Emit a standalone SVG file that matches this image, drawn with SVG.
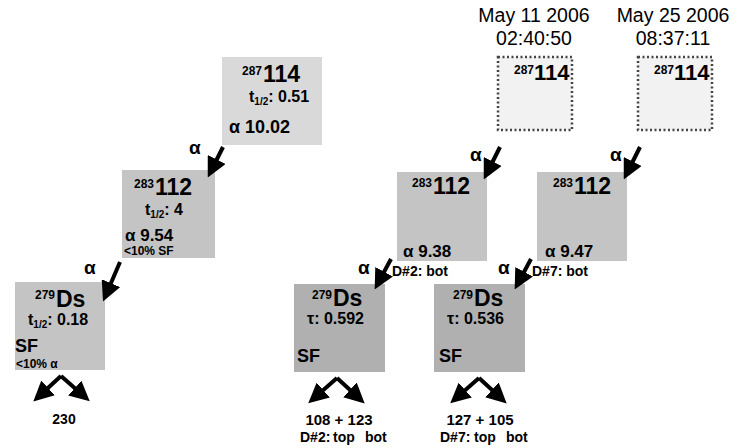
<svg xmlns="http://www.w3.org/2000/svg" width="748" height="448" viewBox="0 0 748 448">
<style>
.b{font-family:"Liberation Sans",Arial,sans-serif;font-weight:bold;fill:#000}
.r{font-family:"Liberation Sans",Arial,sans-serif;fill:#000}
.lt{fill:#d9d9d9}
.md{fill:#c4c4c4}
.dk{fill:#b0b0b0}
.dot{fill:#f2f2f2;stroke:#444;stroke-width:2.5;stroke-dasharray:2 2.5}
.arr{stroke:#000;stroke-width:4;fill:none;marker-end:url(#ah)}
</style>
<defs>
<marker id="ah" markerUnits="userSpaceOnUse" markerWidth="20" markerHeight="20" refX="15" refY="10" orient="auto">
<path d="M0,0 L20,10 L0,20 z" fill="#000"/>
</marker>
</defs>
<rect width="748" height="448" fill="#fff"/>

<g id="n1">
<rect class="lt" x="222" y="57" width="100" height="88"/>
<text class="b" x="242" y="75" font-size="12">287</text>
<text class="b" x="263" y="82" font-size="23">114</text>
<text class="b" x="249" y="102" font-size="16">t<tspan font-size="10" dy="3">1/2</tspan><tspan dy="-3">: 0.51</tspan></text>
<text class="b" x="229" y="133" font-size="18">α 10.02</text>
</g>

<g id="n2">
<rect class="md" x="122" y="170" width="93" height="88"/>
<text class="b" x="134" y="188" font-size="12">283</text>
<text class="b" x="155" y="195" font-size="23">112</text>
<text class="b" x="145" y="215" font-size="16">t<tspan font-size="10" dy="3">1/2</tspan><tspan dy="-3">: 4</tspan></text>
<text class="b" x="125" y="241" font-size="17">α 9.54</text>
<text class="b" x="124" y="255" font-size="12">&lt;10% SF</text>
</g>

<g id="n3">
<rect class="md" x="15" y="282" width="90" height="88"/>
<text class="b" x="35" y="299" font-size="12">279</text>
<text class="b" x="56" y="307" font-size="23">Ds</text>
<text class="b" x="28" y="325" font-size="16">t<tspan font-size="10" dy="3">1/2</tspan><tspan dy="-3">: 0.18</tspan></text>
<text class="b" x="15" y="352" font-size="18">SF</text>
<text class="b" x="16" y="368" font-size="12">&lt;10% α</text>
</g>
<text class="b" x="64" y="424" font-size="14" text-anchor="middle">230</text>

<g id="d1">
<text class="r" x="534" y="22" font-size="19.5" text-anchor="middle">May 11 2006</text>
<text class="r" x="534" y="45" font-size="19.5" text-anchor="middle">02:40:50</text>
<rect class="dot" x="498" y="57" width="74" height="73"/>
<text class="b" x="514" y="74" font-size="12">287</text>
<text class="b" x="534" y="80" font-size="22">114</text>
</g>

<g id="d2">
<text class="r" x="673" y="22" font-size="19.5" text-anchor="middle">May 25 2006</text>
<text class="r" x="673" y="45" font-size="19.5" text-anchor="middle">08:37:11</text>
<rect class="dot" x="638" y="57" width="74" height="73"/>
<text class="b" x="654" y="74" font-size="12">287</text>
<text class="b" x="674" y="80" font-size="22">114</text>
</g>

<g id="m2">
<rect class="md" x="397" y="172" width="90" height="89"/>
<text class="b" x="412" y="187" font-size="12">283</text>
<text class="b" x="433" y="194" font-size="23">112</text>
<text class="b" x="403" y="257" font-size="17">α 9.38</text>
</g>

<g id="r2">
<rect class="md" x="537" y="172" width="90" height="89"/>
<text class="b" x="553" y="187" font-size="12">283</text>
<text class="b" x="574" y="194" font-size="23">112</text>
<text class="b" x="545" y="257" font-size="17">α 9.47</text>
</g>

<g id="m3">
<rect class="dk" x="294" y="284" width="91" height="88"/>
<text class="b" x="312" y="299" font-size="12">279</text>
<text class="b" x="333" y="306" font-size="23">Ds</text>
<text class="b" x="307" y="324" font-size="16">τ: 0.592</text>
<text class="b" x="297" y="362" font-size="18">SF</text>
</g>

<g id="r3">
<rect class="dk" x="434" y="284" width="91" height="88"/>
<text class="b" x="453" y="299" font-size="12">279</text>
<text class="b" x="474" y="306" font-size="23">Ds</text>
<text class="b" x="447" y="324" font-size="16">τ: 0.536</text>
<text class="b" x="439" y="362" font-size="18">SF</text>
</g>

<g id="labels">
<text class="b" x="189" y="154" font-size="19">α</text>
<text class="b" x="84" y="274" font-size="19">α</text>
<text class="b" x="470" y="161" font-size="19">α</text>
<text class="b" x="610" y="161" font-size="19">α</text>
<text class="b" x="358" y="274" font-size="19">α</text>
<text class="b" x="498" y="274" font-size="19">α</text>
<text class="b" x="392" y="276" font-size="14">D#2: bot</text>
<text class="b" x="532" y="276" font-size="14">D#7: bot</text>
<text class="b" x="339" y="425" font-size="15" text-anchor="middle">108 + 123</text>
<text class="b" y="442" font-size="14"><tspan x="300">D#2:</tspan><tspan x="333">top</tspan><tspan x="365">bot</tspan></text>
<text class="b" x="480" y="425" font-size="15" text-anchor="middle">127 + 105</text>
<text class="b" y="442" font-size="14"><tspan x="440">D#7:</tspan><tspan x="474">top</tspan><tspan x="506">bot</tspan></text>
</g>

<g id="connectors">
<path class="arr" d="M223,147 L210,173"/>
<path class="arr" d="M120,262 L105,297"/>
<path class="arr" d="M500,147 L486,175"/>
<path class="arr" d="M640,147 L626,175"/>
<path class="arr" d="M391,259 L377,285"/>
<path class="arr" d="M531,259 L517,285"/>
<path class="arr" d="M61,376 L37,398"/>
<path class="arr" d="M61,376 L86,398"/>
<path class="arr" d="M337,378 L312,400"/>
<path class="arr" d="M337,378 L361,400"/>
<path class="arr" d="M479,378 L454,400"/>
<path class="arr" d="M479,378 L503,400"/>
</g>
</svg>
